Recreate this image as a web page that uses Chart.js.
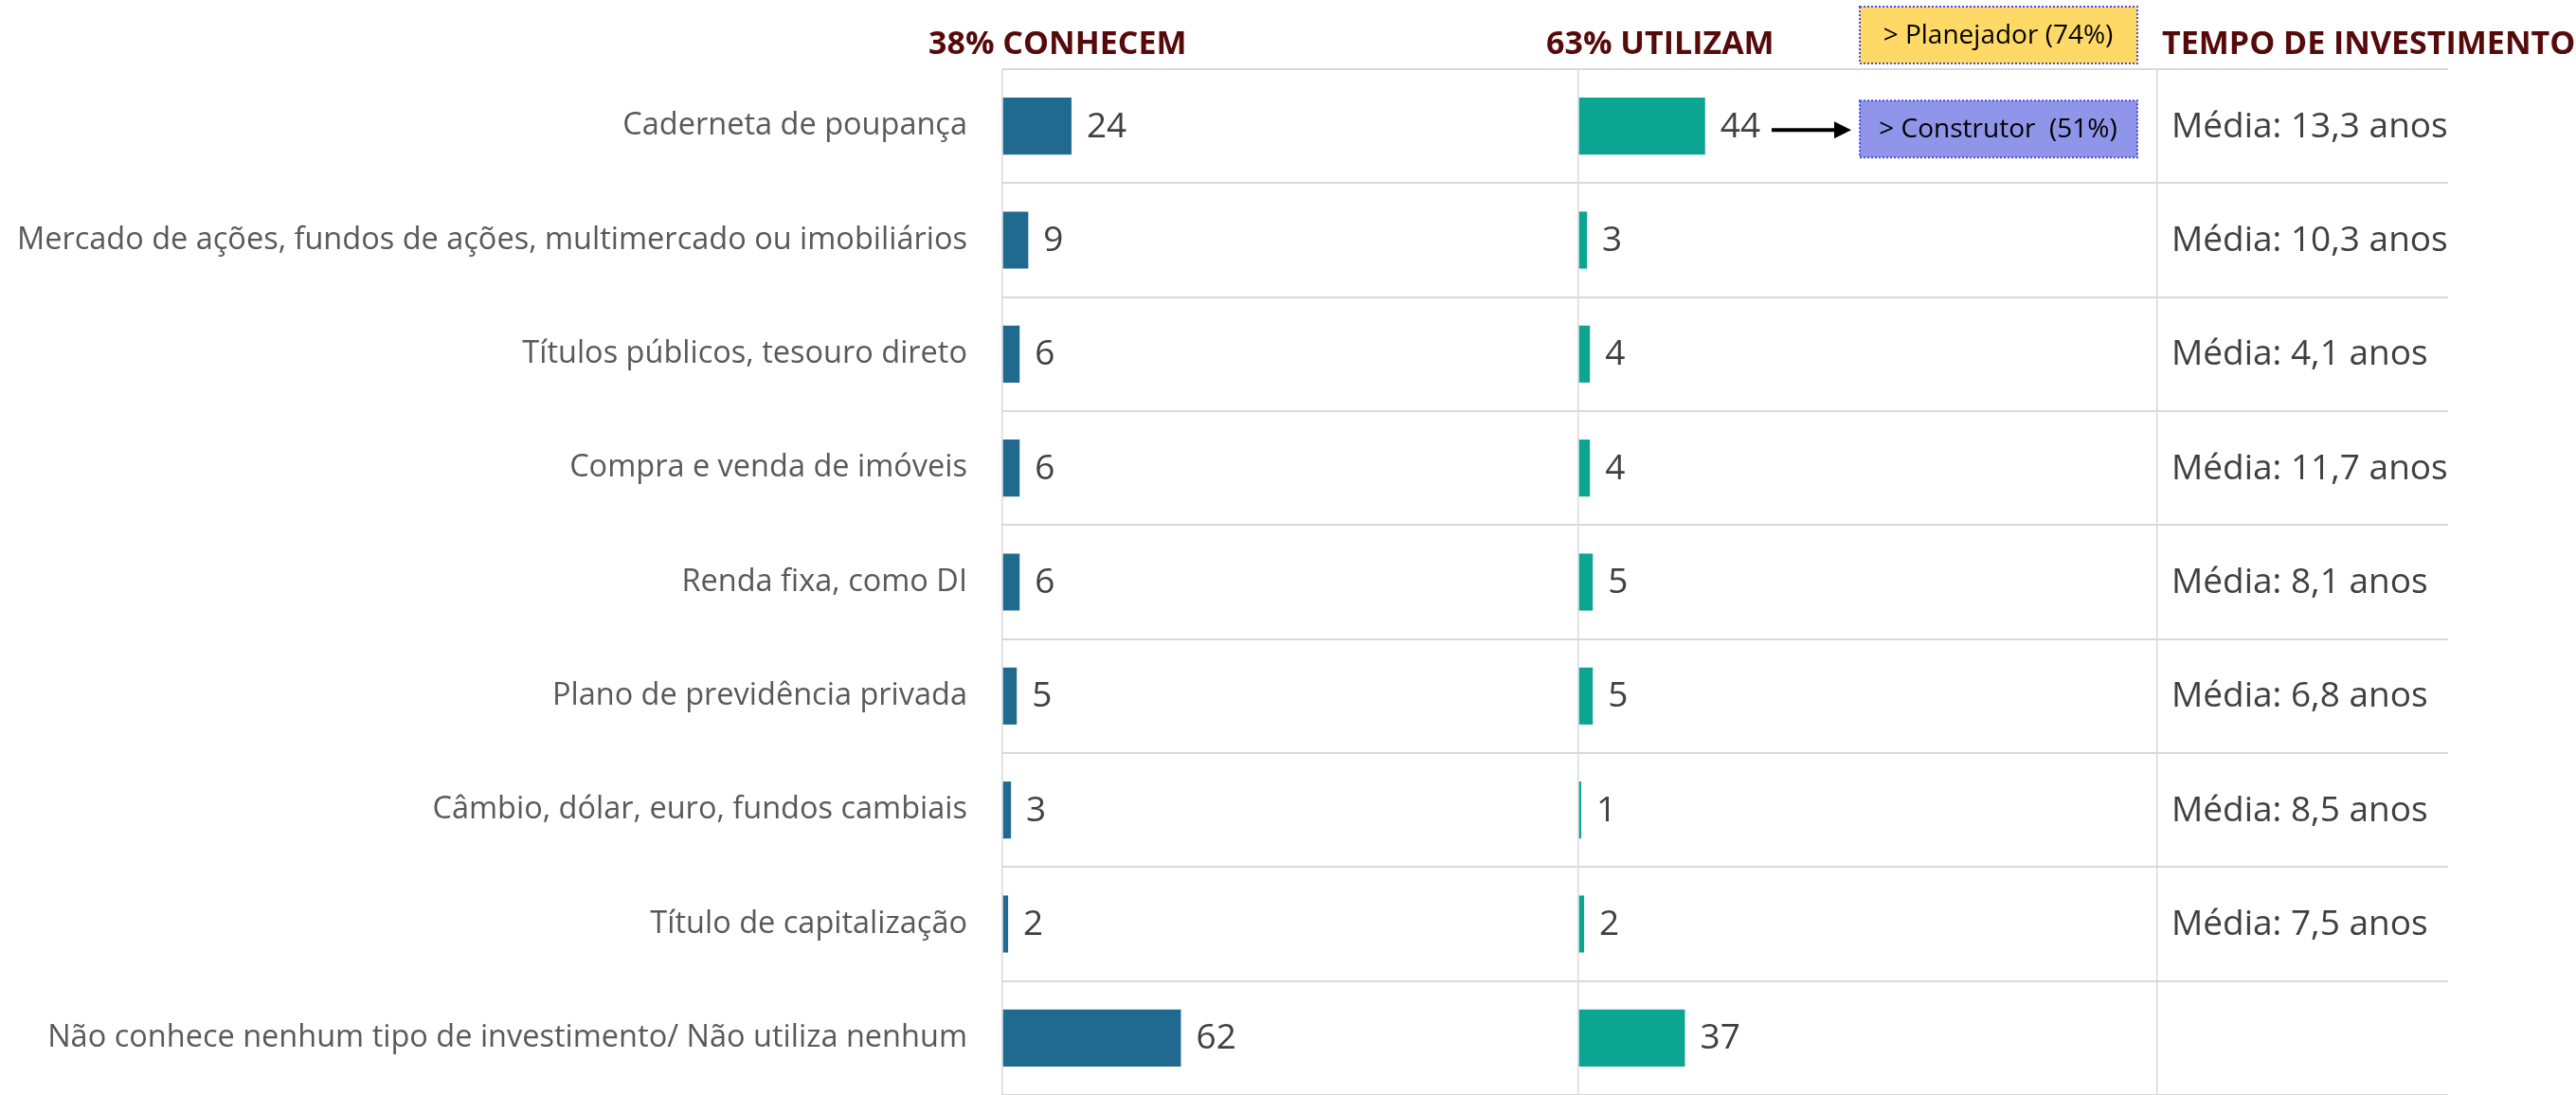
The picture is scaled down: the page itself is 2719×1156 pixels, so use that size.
<!DOCTYPE html>
<html>
<head>
<meta charset="utf-8">
<script src="https://cdn.jsdelivr.net/npm/chart.js@4/dist/chart.umd.min.js"></script>
<style>
html, body { margin: 0; padding: 0; background: #fff; }
</style>
</head>
<body>
<canvas id="investimentos" width="2719" height="1156"></canvas>
<script>
var categorias = [
    'Caderneta de poupança',
    'Mercado de ações, fundos de ações, multimercado ou imobiliários',
    'Títulos públicos, tesouro direto',
    'Compra e venda de imóveis',
    'Renda fixa, como DI',
    'Plano de previdência privada',
    'Câmbio, dólar, euro, fundos cambiais',
    'Título de capitalização',
    'Não conhece nenhum tipo de investimento/ Não utiliza nenhum'
];
var conhecem = [24, 9, 6, 6, 6, 5, 3, 2, 62];
var utilizam = [44, 3, 4, 4, 5, 5, 1, 2, 37];
var mediaAnos = [13.3, 10.3, 4.1, 11.7, 8.1, 6.8, 8.5, 7.5, null];
var titulos = ['38% CONHECEM', '63% UTILIZAM', 'TEMPO DE INVESTIMENTO'];
var destaques = ['> Planejador (74%)', '> Construtor  (51%)'];

var fonte = "'Open Sans', sans-serif";

// so a linha do zero em cada painel
function soZero(scale) {
    scale.ticks = [{value: 0}];
}

var anotacoes = {
    id: 'anotacoes',
    afterDraw: function(chart) {
        var ctx = chart.ctx;
        var x = chart.scales.x, x2 = chart.scales.x2, x3 = chart.scales.x3, y = chart.scales.y;
        ctx.save();

        // valores ao lado das barras
        ctx.fillStyle = '#404040';
        ctx.font = '37px ' + fonte;
        ctx.textAlign = 'left';
        ctx.textBaseline = 'middle';
        chart.data.datasets.forEach(function(ds, i) {
            chart.getDatasetMeta(i).data.forEach(function(bar, j) {
                ctx.fillText(ds.data[j], bar.x + 16, bar.y + 1);
            });
        });

        // tempo medio
        mediaAnos.forEach(function(v, j) {
            if (v === null) return;
            ctx.fillText('Média: ' + v.toFixed(1).replace('.', ',') + ' anos', x3.left + 15, y.getPixelForValue(j) + 1);
        });

        // titulos
        ctx.fillStyle = '#560A0A';
        ctx.font = 'bold 34px ' + fonte;
        ctx.textBaseline = 'alphabetic';
        ctx.fillText(titulos[0], x.left - 78, 57);
        ctx.fillText(titulos[1], x2.left - 34, 57);
        ctx.fillText(titulos[2], x3.left + 5, 57);

        // caixas de destaque
        var bx = x2.left + 297;
        var caixas = [
            {y: 7, cor: '#FFD966', texto: destaques[0]},
            {y: y.getPixelForValue(0) - 27, cor: '#8F95E8', texto: destaques[1]}
        ];
        caixas.forEach(function(c) {
            ctx.fillStyle = c.cor;
            ctx.fillRect(bx, c.y, 293, 60);
            ctx.strokeStyle = '#4A4AE8';
            ctx.lineWidth = 2;
            ctx.setLineDash([2, 2]);
            ctx.strokeRect(bx, c.y, 293, 60);
            ctx.setLineDash([]);
            ctx.fillStyle = '#000';
            ctx.font = '28px ' + fonte;
            ctx.textAlign = 'center';
            ctx.textBaseline = 'middle';
            ctx.fillText(c.texto, bx + 146, c.y + 31);
        });

        // seta
        var ay = y.getPixelForValue(0) + 4;
        ctx.strokeStyle = '#000';
        ctx.lineWidth = 4;
        ctx.beginPath();
        ctx.moveTo(x2.left + 204, ay);
        ctx.lineTo(x2.left + 272, ay);
        ctx.stroke();
        ctx.fillStyle = '#000';
        ctx.beginPath();
        ctx.moveTo(x2.left + 270, ay - 9);
        ctx.lineTo(x2.left + 288, ay);
        ctx.lineTo(x2.left + 270, ay + 9);
        ctx.closePath();
        ctx.fill();

        ctx.restore();
    }
};

var eixoPainel = function(peso, max) {
    return {
        type: 'linear',
        position: 'bottom',
        stack: 'painel',
        stackWeight: peso,
        min: 0,
        max: max,
        ticks: { display: false },
        grid: { color: '#D9D9D9', lineWidth: 1.5, drawTicks: false },
        border: { display: false },
        afterBuildTicks: soZero,
        afterFit: function(scale) { scale.height = 0; }
    };
};

var ctx = document.getElementById('investimentos').getContext('2d');
var chart = new Chart(ctx, {
    type: 'bar',
    data: {
        labels: categorias,
        datasets: [{
            label: 'Conhecem',
            data: conhecem,
            xAxisID: 'x',
            backgroundColor: '#1F6A8E',
            grouped: false,
            barPercentage: 0.5,
            categoryPercentage: 1
        }, {
            label: 'Utilizam',
            data: utilizam,
            xAxisID: 'x2',
            backgroundColor: '#0BA592',
            grouped: false,
            barPercentage: 0.5,
            categoryPercentage: 1
        }]
    },
    options: {
        indexAxis: 'y',
        responsive: false,
        animation: false,
        layout: { padding: { left: 0, right: 135, top: 73, bottom: 0 } },
        scales: {
            y: {
                type: 'category',
                offset: true,
                grid: {
                    offset: true,
                    color: function(c) { return c.index === categorias.length ? 'rgba(0,0,0,0)' : '#D9D9D9'; },
                    lineWidth: 2,
                    drawTicks: false
                },
                border: { display: false },
                ticks: {
                    autoSkip: false,
                    color: '#595959',
                    padding: 37,
                    font: { family: fonte, size: 32.5 }
                },
                afterFit: function(scale) {
                    scale.width = 1058;
                    scale.paddingTop = 0;
                    scale.paddingBottom = 0;
                }
            },
            x: eixoPainel(608, 200),
            x2: eixoPainel(611, 201),
            x3: eixoPainel(307, 1)
        },
        plugins: {
            legend: { display: false },
            tooltip: { enabled: false }
        }
    },
    plugins: [anotacoes]
});
</script>
</body>
</html>
